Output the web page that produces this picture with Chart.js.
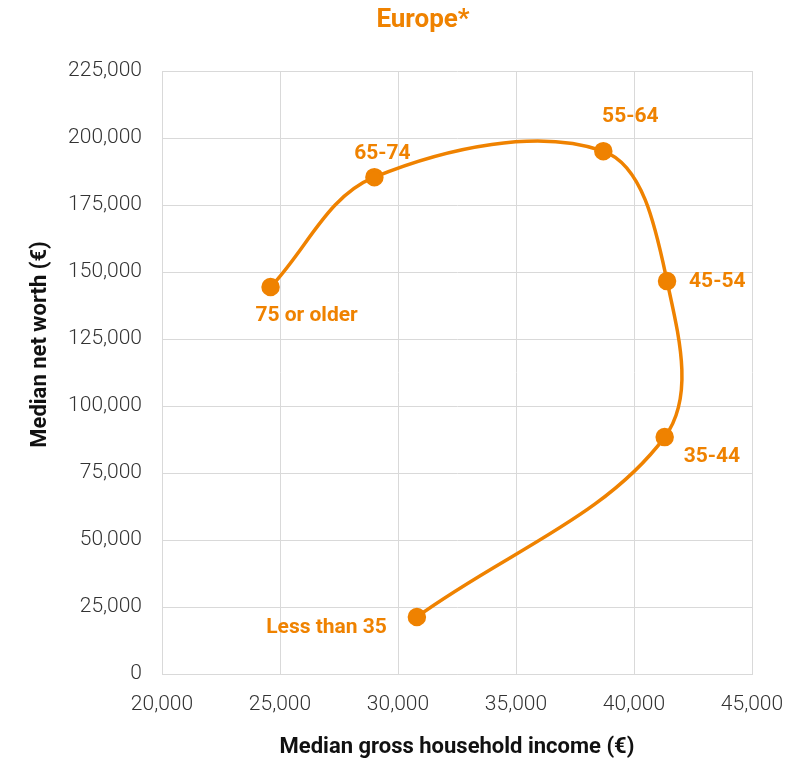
<!DOCTYPE html>
<html>
<head>
<meta charset="utf-8">
<title>Europe*</title>
<script src="https://cdn.jsdelivr.net/npm/chart.js@4"></script>
<style>
  html, body { margin: 0; padding: 0; background: #ffffff; }
  #chart { display: block; }
</style>
</head>
<body>
<canvas id="chart" width="808" height="761"></canvas>
<script>
const ORANGE = "#EF8200";

// age groups of the household head, in drawing order
const ageGroups = ["Less than 35", "35-44", "45-54", "55-64", "65-74", "75 or older"];
const medianIncome = [30800, 41300, 41400, 38700, 29000, 24600];
const medianNetWorth = [21300, 88400, 146600, 195100, 185400, 144400];

const xTicks = [20000, 25000, 30000, 35000, 40000, 45000];
const yTicks = [0, 25000, 50000, 75000, 100000, 125000, 150000, 175000, 200000, 225000];

// where each age label sits relative to its point
const labelPlacement = [
  { dx: -30, dy: 11, align: "right" },
  { dx: 19, dy: 20, align: "left" },
  { dx: 22, dy: 1, align: "left" },
  { dx: 27, dy: -34, align: "center" },
  { dx: 8, dy: -23, align: "center" },
  { dx: 36, dy: 29, align: "center" },
];

const fmt = (v) => v.toLocaleString("en-US");

const ageLabels = {
  id: "ageLabels",
  afterDatasetsDraw(chart) {
    const { ctx, scales } = chart;
    ctx.save();
    ctx.fillStyle = ORANGE;
    ctx.font = "bold 21px Roboto, 'Noto Sans', sans-serif";
    ctx.textBaseline = "middle";
    ageGroups.forEach((name, i) => {
      const p = labelPlacement[i];
      const x = scales.x.getPixelForValue(medianIncome[i]);
      const y = scales.y.getPixelForValue(medianNetWorth[i]);
      ctx.textAlign = p.align;
      ctx.fillText(name, x + p.dx, y + p.dy);
    });
    ctx.restore();
  },
};

// heading and the y-axis caption, both placed by hand
const captions = {
  id: "captions",
  afterDraw(chart) {
    const { ctx, chartArea } = chart;
    ctx.save();
    ctx.textAlign = "center";
    ctx.textBaseline = "middle";

    ctx.fillStyle = ORANGE;
    ctx.font = "bold 26px Roboto, 'Noto Sans', sans-serif";
    ctx.fillText("Europe*", chart.width / 2 + 19, 20);

    ctx.fillStyle = "#111111";
    ctx.font = "bold 22px Roboto, 'Noto Sans', sans-serif";
    ctx.translate(40, (chartArea.top + chartArea.bottom) / 2 - 28);
    ctx.rotate(-Math.PI / 2);
    ctx.fillText("Median net worth (€)", 0, 0);
    ctx.restore();
  },
};

const points = medianIncome.map((x, i) => ({ x, y: medianNetWorth[i] }));

new Chart(document.getElementById("chart"), {
  type: "scatter",
  data: {
    datasets: [{
      label: "Europe",
      data: points,
      showLine: true,
      tension: 0.36,
      borderColor: ORANGE,
      backgroundColor: ORANGE,
      borderWidth: 3.5,
      pointRadius: 7.5,
      pointHoverRadius: 7.5,
    }],
  },
  options: {
    responsive: false,
    animation: false,
    layout: { padding: { left: 27, right: 56, top: 71, bottom: 0 } },
    plugins: {
      legend: { display: false },
      tooltip: { enabled: false },
      title: { display: false },
    },
    scales: {
      x: {
        type: "linear",
        min: 20000,
        max: 45000,
        afterBuildTicks: (axis) => { axis.ticks = xTicks.map((value) => ({ value })); },
        afterFit: (axis) => { axis.height = 87; },
        ticks: {
          color: "#333333",
          font: { family: "Roboto, sans-serif", size: 21, weight: "300" },
          padding: 18,
          maxRotation: 0,
          callback: (v) => fmt(v),
        },
        grid: { color: "#d9d9d9", lineWidth: 1, drawTicks: false },
        border: { color: "#d9d9d9" },
        title: {
          display: true,
          text: "Median gross household income (€)",
          color: "#111111",
          font: { family: "Roboto, sans-serif", size: 22, weight: "bold" },
          padding: { top: 0, bottom: 0 },
        },
      },
      y: {
        type: "linear",
        min: 0,
        max: 225000,
        afterBuildTicks: (axis) => { axis.ticks = yTicks.map((value) => ({ value })); },
        afterFit: (axis) => { axis.width = 135; },
        ticks: {
          color: "#333333",
          font: { family: "Roboto, sans-serif", size: 21, weight: "300" },
          padding: 20,
          callback: (v) => fmt(v),
        },
        grid: { color: "#d9d9d9", lineWidth: 1, drawTicks: false },
        border: { color: "#d9d9d9" },
      },
    },
  },
  plugins: [ageLabels, captions],
});
</script>
</body>
</html>
